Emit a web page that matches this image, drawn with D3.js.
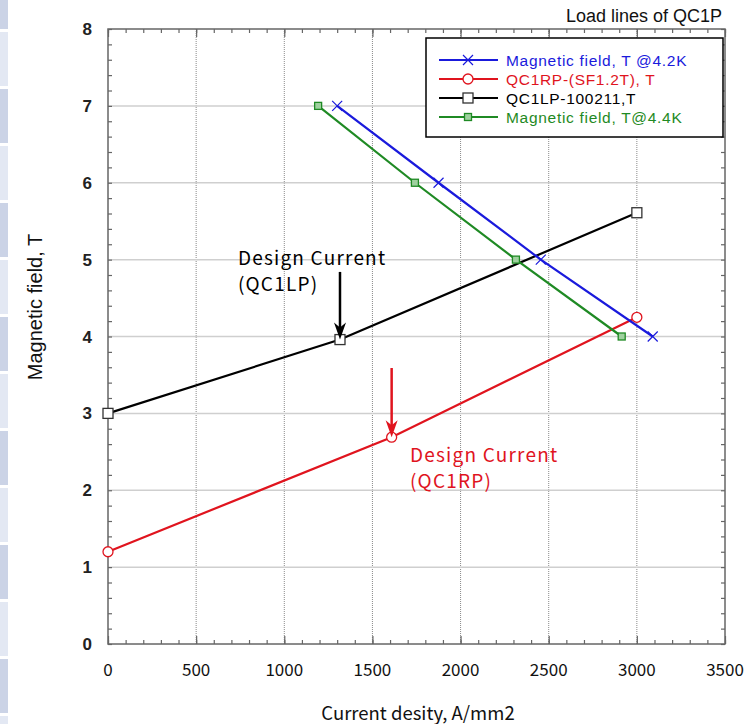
<!DOCTYPE html>
<html><head><meta charset="utf-8">
<script src="https://cdn.jsdelivr.net/npm/d3@7"></script>
<style>body{margin:0;background:#fff}svg{display:block}</style>
</head><body>
<script>
// ---- data ----
const blueX = [1300, 1875, 2455, 3090];
const blueY = [7, 6, 5, 4];
const greenX = [1192, 1741, 2314, 2914];
const greenY = [7, 6, 5, 4];
const blackX = [0, 1316, 3000];
const blackY = [3, 3.96, 5.61];
const redX = [0, 1609, 3000];
const redY = [1.2, 2.69, 4.25];
const xTicks = [0, 500, 1000, 1500, 2000, 2500, 3000, 3500];
const yTicks = [0, 1, 2, 3, 4, 5, 6, 7, 8];
const legendLabels = ["Magnetic field, T @4.2K", "QC1RP-(SF1.2T), T", "QC1LP-100211,T", "Magnetic field, T@4.4K"];
const annotLabels = [["Design Current", "(QC1LP)"], ["Design Current", "(QC1RP)"]];
const annotArrowX = [1316, 1609];
const annotArrowTop = [4.84, 3.59];
const annotArrowTip = [3.96, 2.69];
const annotTextX = [737, 1713];
const annotTextY = [4.93, 2.37];

const W = 749, H = 724;
const svg = d3.select("body").append("svg").attr("width", W).attr("height", H);

// decorative left strip
const stripCols = ["#cbd3e6", "#e3e8f3"];
for (let i = -1; i < 13; i++) {
  svg.append("rect").attr("x", 0).attr("y", 32 + i * 57).attr("width", 8).attr("height", 54)
    .attr("fill", stripCols[(i + 2) % 2 === 1 ? 0 : 1]);
}

const x = d3.scaleLinear([0, 3500], [108, 725]);
const y = d3.scaleLinear([0, 8], [644, 29]);

// gridlines
svg.append("g").selectAll("line").data(xTicks.slice(1, -1)).join("line")
  .attr("x1", d => x(d)).attr("x2", d => x(d)).attr("y1", y(0)).attr("y2", y(8))
  .attr("stroke", "#8a8a8a").attr("stroke-width", 1).attr("stroke-dasharray", "1,1");
svg.append("g").selectAll("line").data(yTicks.slice(1, -1)).join("line")
  .attr("y1", d => y(d)).attr("y2", d => y(d)).attr("x1", x(0)).attr("x2", x(3500))
  .attr("stroke", "#cfcfcf").attr("stroke-width", 1.5);

// axes with inner ticks
const minorX = d3.range(0, 3501, 100), minorY = d3.range(0, 8.01, 0.2);
const axisCol = "#666";
function addAxis(axis, tr) {
  const g = svg.append("g").attr("transform", tr).call(axis);
  g.select(".domain").remove();
  g.selectAll("line").attr("stroke", axisCol).attr("stroke-width", 1.2);
  return g;
}
addAxis(d3.axisBottom(x).tickValues(minorX).tickSize(-4).tickFormat(""), `translate(0,${y(0)})`);
addAxis(d3.axisTop(x).tickValues(minorX).tickSize(-4).tickFormat(""), `translate(0,${y(8)})`);
addAxis(d3.axisLeft(y).tickValues(minorY).tickSize(-4).tickFormat(""), `translate(${x(0)},0)`);
addAxis(d3.axisRight(y).tickValues(minorY).tickSize(-4).tickFormat(""), `translate(${x(3500)},0)`);
addAxis(d3.axisBottom(x).tickValues(xTicks).tickSize(-8).tickFormat(""), `translate(0,${y(0)})`);
addAxis(d3.axisTop(x).tickValues(xTicks).tickSize(-8).tickFormat(""), `translate(0,${y(8)})`);

svg.append("rect").attr("x", x(0)).attr("y", y(8)).attr("width", x(3500) - x(0)).attr("height", y(0) - y(8))
  .attr("fill", "none").attr("stroke", axisCol).attr("stroke-width", 1.5);

// tick labels
svg.append("g").selectAll("text").data(xTicks).join("text")
  .attr("x", d => x(d)).attr("y", 676).attr("text-anchor", "middle")
  .attr("font-family", "'Noto Sans CJK JP'").attr("font-size", 17).attr("fill", "#111")
  .text(d => d);
svg.append("g").selectAll("text").data(yTicks).join("text")
  .attr("x", 92).attr("y", d => y(d) + 6).attr("text-anchor", "end")
  .attr("font-family", "'Liberation Sans'").attr("font-weight", "bold").attr("font-size", 17).attr("fill", "#222")
  .text(d => d);

// axis titles
svg.append("text").attr("x", 418).attr("y", 720).attr("text-anchor", "middle")
  .attr("font-family", "'Noto Sans CJK JP'").attr("font-size", 18.5).attr("fill", "#111")
  .text("Current desity, A/mm2");
svg.append("text").attr("transform", "translate(42,307) rotate(-90)").attr("text-anchor", "middle")
  .attr("font-family", "'Liberation Sans'").attr("font-size", 20).attr("fill", "#111")
  .text("Magnetic field, T");
svg.append("text").attr("x", 722).attr("y", 22).attr("text-anchor", "end")
  .attr("font-family", "'Liberation Sans'").attr("font-size", 18).attr("fill", "#111")
  .text("Load lines of QC1P");

// series
const series = [
  {xs: blueX, ys: blueY, color: "#1a1adc", marker: "x"},
  {xs: redX, ys: redY, color: "#e0141e", marker: "o"},
  {xs: blackX, ys: blackY, color: "#000", marker: "s"},
  {xs: greenX, ys: greenY, color: "#1f8a24", marker: "g"}
];
const line = d3.line().x(d => x(d[0])).y(d => y(d[1]));
function drawMarker(g, cx, cy, s) {
  if (s.marker === "x") {
    g.append("path").attr("d", `M${cx-5},${cy-5}L${cx+5},${cy+5}M${cx-5},${cy+5}L${cx+5},${cy-5}`)
      .attr("stroke", s.color).attr("stroke-width", 1.2).attr("fill", "none");
  } else if (s.marker === "o") {
    g.append("circle").attr("cx", cx).attr("cy", cy).attr("r", 5)
      .attr("stroke", s.color).attr("stroke-width", 1.3).attr("fill", "#fff");
  } else if (s.marker === "s") {
    g.append("rect").attr("x", cx - 5).attr("y", cy - 5).attr("width", 10).attr("height", 10)
      .attr("stroke", "#333").attr("stroke-width", 1.3).attr("fill", "#fff");
  } else {
    g.append("rect").attr("x", cx - 3.5).attr("y", cy - 3.5).attr("width", 7).attr("height", 7)
      .attr("stroke", s.color).attr("stroke-width", 1.3).attr("fill", "#9fd09f");
  }
}
// draw order: red, black, green, blue
[1, 2, 3, 0].forEach(i => {
  const s = series[i];
  const pts = s.xs.map((v, j) => [v, s.ys[j]]);
  const g = svg.append("g");
  g.append("path").attr("d", line(pts)).attr("fill", "none").attr("stroke", s.color).attr("stroke-width", 2.2);
  pts.forEach(p => drawMarker(g, x(p[0]), y(p[1]), s));
});

// annotations
const annotColors = ["#000", "#e0141e"];
annotLabels.forEach((lab, i) => {
  const c = annotColors[i];
  const ax = x(annotArrowX[i]), top = y(annotArrowTop[i]), tip = y(annotArrowTip[i]);
  svg.append("line").attr("x1", ax).attr("x2", ax).attr("y1", top).attr("y2", tip - 10)
    .attr("stroke", c).attr("stroke-width", 2.5);
  svg.append("path").attr("d", `M${ax-6},${tip-17}L${ax},${tip}L${ax+6},${tip-17}L${ax},${tip-12}Z`).attr("fill", c);
  const t = svg.append("text").attr("font-family", "'Noto Sans CJK JP'").attr("font-size", 19)
    .attr("letter-spacing", 1.2).attr("fill", c);
  lab.forEach((s, k) => t.append("tspan").attr("x", x(annotTextX[i])).attr("y", y(annotTextY[i]) + k * 26).text(s));
});

// legend
const lg = svg.append("g");
lg.append("rect").attr("x", 426).attr("y", 38).attr("width", 297).attr("height", 99)
  .attr("fill", "#fff").attr("stroke", "#000").attr("stroke-width", 1.5);
const rowY = [60, 79, 98, 117];
series.forEach((s, i) => {
  lg.append("line").attr("x1", 439).attr("x2", 498).attr("y1", rowY[i]).attr("y2", rowY[i])
    .attr("stroke", s.color).attr("stroke-width", 2);
  drawMarker(lg, 468, rowY[i], s);
  lg.append("text").attr("x", 506).attr("y", rowY[i] + 5.5)
    .attr("font-family", "'Liberation Sans'").attr("font-size", 15.5).attr("letter-spacing", 0.7).attr("fill", s.color)
    .text(legendLabels[i]);
});
</script>
</body></html>
